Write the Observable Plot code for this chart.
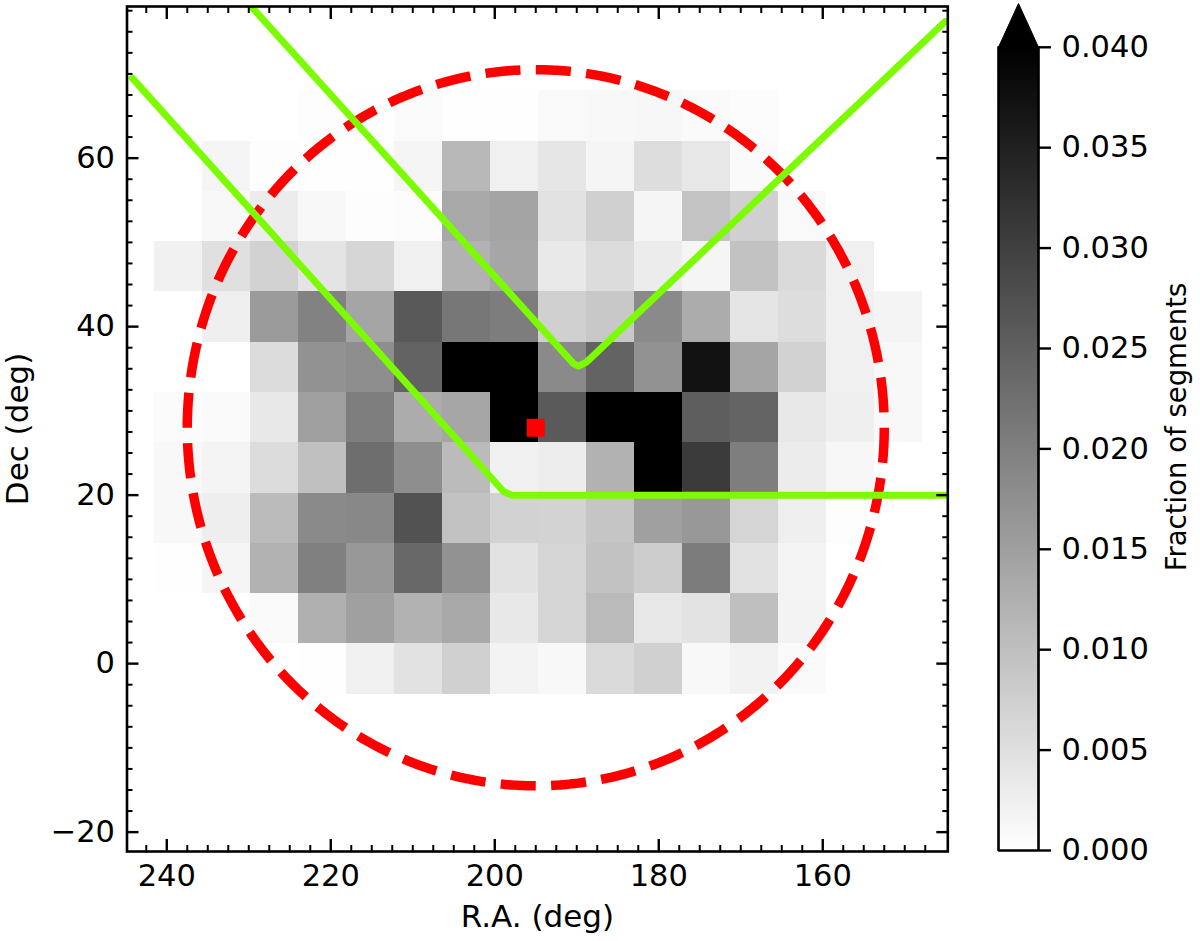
<!DOCTYPE html>
<html>
<head>
<meta charset="utf-8">
<script src="https://cdn.jsdelivr.net/npm/d3@7"></script>
<script src="https://cdn.jsdelivr.net/npm/@observablehq/plot@0.6"></script>
<style>
html,body{margin:0;padding:0;background:#fff;}
#wrap{position:relative;width:1200px;height:941px;overflow:hidden;}
#wrap svg{position:absolute;left:0;top:0;background:transparent;overflow:visible;}
</style>
</head>
<body>
<div id="wrap"></div>
<script>
// Bin edges
const raEdges = [241.46,235.61,229.76,223.91,218.06,212.21,206.36,200.51,194.66,188.81,182.96,177.11,171.26,165.41,159.56,153.71,147.86];
const decEdges = [68.00,62.03,56.06,50.09,44.12,38.15,32.18,26.21,20.24,14.27,8.30,2.33,-3.64];
// Fraction of segments per bin, top row (high Dec) to bottom, left column (high R.A.) to right
const row0  = [0,0,0,.0003,.0002,.0006,.0002,.0002,.0009,.0011,.0013,.0008,.0005,0,0,0];
const row1  = [0,.0016,.0003,.0002,.0002,.0016,.0111,.0024,.0039,.0016,.0053,.0038,.0008,0,0,0];
const row2  = [0,.0011,.0030,.0011,.0003,.0005,.0136,.0143,.0045,.0074,.0016,.0094,.0074,.0009,0,0];
const row3  = [.0022,.0049,.0071,.0042,.0064,.0024,.0121,.0140,.0035,.0055,.0030,.0016,.0096,.0058,.0024,0];
const row4  = [0,.0025,.0157,.0196,.0141,.0260,.0213,.0204,.0074,.0086,.0184,.0130,.0041,.0053,.0024,.0017];
const row5  = [0,0,.0055,.0171,.0177,.0245,.0420,.0420,.0184,.0245,.0171,.0372,.0141,.0071,.0024,.0011];
const row6  = [.0006,.0008,.0036,.0149,.0202,.0130,.0140,.0420,.0259,.0420,.0420,.0253,.0243,.0036,.0025,.0011];
const row7  = [.0011,.0017,.0055,.0099,.0227,.0177,.0107,.0024,.0028,.0121,.0420,.0307,.0202,.0030,.0013,0];
const row8  = [.0011,.0027,.0107,.0184,.0187,.0271,.0096,.0071,.0069,.0091,.0149,.0162,.0066,.0025,.0003,0];
const row9  = [.0002,.0016,.0121,.0199,.0162,.0237,.0171,.0045,.0066,.0096,.0080,.0205,.0045,.0017,0,0];
const row10 = [0,0,.0008,.0124,.0149,.0121,.0136,.0036,.0066,.0108,.0036,.0044,.0100,.0019,0,0];
const row11 = [0,0,0,.0002,.0024,.0045,.0074,.0019,.0011,.0058,.0074,.0011,.0020,.0008,0,0];
const rows = [row0,row1,row2,row3,row4,row5,row6,row7,row8,row9,row10,row11];

// Footprint boundaries
const boundaryLower = [[244.2,69.5],[198.9,20.4],[197.9,20.0],[145.0,20.0]];
const boundaryUpper = [[231,79.4],[190.4,35.6],[189.8,35.3],[188.8,35.8],[145.1,76.2]];
// Central marker and survey circle
const centerRA = 195, centerDec = 28, circleRadius = 42.5;

// Axis ticks
const xMajor = [240,220,200,180,160];
const yMajor = [60,40,20,0,-20];
const xMinor = d3.range(147.5,244,2.5).filter(d => d % 20 !== 0);
const yMinor = d3.range(-20,78,2.5).filter(d => d % 20 !== 0);
const cbTicks = [0,0.005,0.01,0.015,0.02,0.025,0.03,0.035,0.04];
const cbMax = 0.04, cbTip = 0.04218;

const FONT = "'DejaVu Sans'";
const FS = 30.5;
const LFS = 31;

const cells = rows.flatMap((r,i) => r.map((v,j) => ({x1:raEdges[j],x2:raEdges[j+1],y1:decEdges[i],y2:decEdges[i+1],v}))).filter(d => d.v > 0);
const circle = d3.range(0,721).map(k => {
  const a = k/2*Math.PI/180;
  return [centerRA - circleRadius*Math.cos(a), centerDec - circleRadius*Math.sin(a)];
});
const colorOpts = {type:"linear",domain:[0,cbMax],range:["#ffffff","#000000"],clamp:true};
const fmt = d => d < 0 ? "\u2212" + (-d) : String(d);

const main = Plot.plot({
  width:1200,height:941,
  marginLeft:126.5,marginRight:252.7,marginTop:6,marginBottom:90,
  style:{fontFamily:FONT,background:"transparent"},
  x:{domain:[244.85,144.75],axis:null},
  y:{domain:[-22.3,78],axis:null},
  color:colorOpts,
  marks:[
    Plot.rect(cells,{x1:"x1",x2:"x2",y1:"y1",y2:"y2",fill:"v",shapeRendering:"crispEdges"}),
    Plot.line(circle,{x:d=>d[0],y:d=>d[1],stroke:"#ff0000",strokeWidth:9.5,strokeDasharray:"35.1 15.35",strokeLinecap:"butt",curve:"linear",clip:true}),
    Plot.line(boundaryLower,{x:d=>d[0],y:d=>d[1],stroke:"#7cfc00",strokeWidth:7,strokeLinejoin:"round",clip:true}),
    Plot.line(boundaryUpper,{x:d=>d[0],y:d=>d[1],stroke:"#7cfc00",strokeWidth:7,strokeLinejoin:"round",clip:true}),
    Plot.dot([[centerRA,centerDec]],{x:d=>d[0],y:d=>d[1],symbol:"square",r:10.15,fill:"#ff0000",stroke:"none"}),
    Plot.frame({stroke:"#000",strokeWidth:2.6}),
    Plot.axisX(xMajor,{anchor:"bottom",tickSize:-12,strokeWidth:2.4,fill:"none",label:null}),
    Plot.axisX(xMajor,{anchor:"top",tickSize:-12,strokeWidth:2.4,fill:"none",label:null}),
    Plot.axisX(xMinor,{anchor:"bottom",tickSize:-6,strokeWidth:2,fill:"none",label:null}),
    Plot.axisX(xMinor,{anchor:"top",tickSize:-6,strokeWidth:2,fill:"none",label:null}),
    Plot.axisY(yMajor,{anchor:"left",tickSize:-12,strokeWidth:2.4,fill:"none",label:null}),
    Plot.axisY(yMajor,{anchor:"right",tickSize:-12,strokeWidth:2.4,fill:"none",label:null}),
    Plot.axisY(yMinor,{anchor:"left",tickSize:-6,strokeWidth:2,fill:"none",label:null}),
    Plot.axisY(yMinor,{anchor:"right",tickSize:-6,strokeWidth:2,fill:"none",label:null}),
    Plot.axisX(xMajor,{anchor:"bottom",tickSize:0,tickPadding:13,fontSize:FS,fill:"#000",label:null,tickFormat:fmt}),
    Plot.axisY(yMajor,{anchor:"left",tickSize:0,tickPadding:12,fontSize:FS,fill:"#000",label:null,tickFormat:fmt}),
    Plot.text(["R.A. (deg)"],{frameAnchor:"bottom",dy:66,lineAnchor:"middle",text:d=>d,fontSize:LFS,fill:"#000"}),
    Plot.text(["Dec (deg)"],{frameAnchor:"left",dx:-108.5,textAnchor:"middle",lineAnchor:"middle",rotate:-90,text:d=>d,fontSize:LFS,fill:"#000"})
  ]
});

const ramp = d3.range(0,200).map(i => ({y1:i*0.0002,y2:(i+1)*0.0002,v:(i+0.5)*0.0002}));
const bar = Plot.plot({
  width:1200,height:941,
  marginLeft:998,marginRight:162,marginTop:3,marginBottom:91,
  style:{fontFamily:FONT,background:"transparent"},
  x:{domain:[0,1],axis:null},
  y:{domain:[0,cbTip],axis:null},
  color:colorOpts,
  marks:[
    Plot.rect(ramp,{x1:()=>0,x2:()=>1,y1:"y1",y2:"y2",fill:"v",shapeRendering:"crispEdges"}),
    Plot.line([[0,cbMax],[0.5,cbTip],[1,cbMax]],{x:d=>d[0],y:d=>d[1],stroke:"#000",fill:"#000",strokeWidth:1}),
    Plot.line([[0,cbMax],[0,0],[1,0],[1,cbMax]],{x:d=>d[0],y:d=>d[1],stroke:"#000",strokeWidth:2.6,strokeLinejoin:"miter"}),
    Plot.axisY(cbTicks,{anchor:"right",tickSize:12,tickPadding:11,strokeWidth:2.4,fontSize:FS,fill:"#000",label:null,tickFormat:d3.format(".3f")}),
    Plot.text(["Fraction of segments"],{frameAnchor:"right",dx:139,textAnchor:"middle",lineAnchor:"middle",rotate:-90,text:d=>d,fontSize:27.5,fill:"#000"})
  ]
});

const wrap = document.getElementById("wrap");
wrap.append(main, bar);
</script>
</body>
</html>
